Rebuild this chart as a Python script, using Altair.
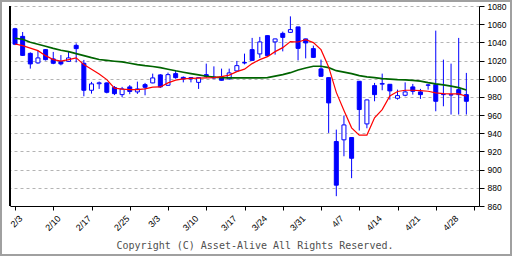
import altair as alt
import pandas as pd

opens = [1055, 1046.6, 1027.9, 1017.4, 1032, 1021.8, 1018.8, 1019.1, 1036.7, 1017,
         987.3, 994.5, 995.4, 990.4, 982.5, 991, 985.5, 993.5, 995.4, 1004.2,
         992.8, 1005.6, 1001.5, 1001.2, 996, 1004.5, 1001.9, 1002, 999.8, 1008.6,
         1017.3, 1032, 1027.3, 1047.4, 1040.5, 1049.9, 1051, 1057, 1043.8, 1033.1,
         1010.8, 1001.2, 930.9, 932.8, 935.3, 997.2, 950.3, 992.4, 994, 993.9,
         978.5, 981.8, 991, 985.5, 992.8, 993.5, 982.5, 982, 988, 982.5]
highs = [1056, 1051.4, 1029, 1030.9, 1032.5, 1029.5, 1026, 1029.5, 1038.9, 1020.7,
         996.5, 996.9, 996, 992, 991, 993, 996.8, 995.4, 1005.6, 1005,
         1006.7, 1009.3, 1002.5, 1001.5, 1001.2, 1016.6, 1013.6, 1011.1, 1011.1, 1019.6,
         1027.6, 1044.9, 1046, 1047.5, 1044, 1051.8, 1068.6, 1057, 1044, 1036.4,
         1021, 1001.5, 944, 959.5, 935.5, 997.5, 977, 995.4, 1005.6, 994,
         988, 996, 994.3, 988.8, 994.3, 1052.9, 1021, 1016.6, 1044.9, 1006.4]
lows = [1037, 1025, 1011.1, 1016.5, 1020, 1016, 1014.7, 1018.5, 1018, 980.7,
        983.6, 988.8, 983.9, 982, 979.6, 983, 983.3, 981.8, 995, 990,
        992, 1000, 996, 996, 988.8, 1001, 1000, 998, 999, 1008,
        1015.8, 1020, 1022.9, 1025, 1026.5, 1030.1, 1050.3, 1020.2, 1022.4, 1023,
        1002, 940.4, 870.8, 914.7, 890.6, 943, 945.5, 975.2, 987.3, 977,
        977, 980.7, 982.5, 977.8, 988, 964.2, 969.7, 960.6, 960.6, 960.6]
closes = [1038, 1025.7, 1016.3, 1022.9, 1021, 1017, 1016.3, 1022.9, 1033.1, 987.3,
          994.3, 995.5, 985.1, 983.6, 988.8, 986, 988.8, 990.6, 1000.9, 991,
          1004.5, 1001.2, 999.8, 999.8, 1001.2, 1002.6, 1000.8, 998.3, 1006.4, 1014.4,
          1017.8, 1020.2, 1040.5, 1025.4, 1043.8, 1045.5, 1054, 1033.4, 1039.4, 1023.5,
          1002.7, 973.4, 882.9, 949.2, 912.5, 966.1, 976.7, 982.5, 994.8, 986.6,
          981.4, 985.5, 986.2, 982.5, 993.2, 975.2, 982.8, 982.5, 982.5, 975.2]
ma_short = [1038.2, 1036.4, 1033.6, 1030.9, 1025.4, 1021.0, 1019.3, 1021.0, 1022.9, 1015.5,
            1010.5, 1005.1, 999.0, 989.7, 988.6, 988.0, 988.0, 988.8, 990.8, 991.0,
            995.4, 998.5, 999.8, 1000.4, 1000.7, 1000.9, 1001.2, 1002.3, 1004.0, 1007.8,
            1010.5, 1016.6, 1021.0, 1024.3, 1029.8, 1034.2, 1040.8, 1040.4, 1043.0, 1039.7,
            1032.0, 1013.0, 985.0, 965.0, 946.0, 938.0, 938.0, 957.0, 966.0, 981.0,
            986.0, 987.3, 987.3, 986.9, 986.2, 984.4, 983.6, 983.3, 983.3, 980.7]
ma_long = [1044.6, 1043.5, 1040.2, 1038.0, 1035.8, 1033.4, 1031.4, 1029.8, 1027.6, 1025.4,
           1023.2, 1021.2, 1020.2, 1019.3, 1018.5, 1017.1, 1015.5, 1014.4, 1013.5, 1012.2,
           1010.5, 1008.7, 1007.1, 1005.6, 1004.2, 1002.7, 1001.8, 1001.2, 1000.9, 1000.9,
           1000.9, 1000.9, 1000.9, 1001.2, 1002.9, 1004.5, 1006.7, 1009.5, 1011.9, 1013.8,
           1013.8, 1012.2, 1008.9, 1007.3, 1005.6, 1003.4, 1002.0, 1001.2, 1000.1, 999.6,
           999.0, 998.7, 998.2, 997.4, 995.7, 994.3, 993.2, 991.9, 990.2, 987.5]

label_text = ["2/3", "2/10", "2/17", "2/25", "3/3", "3/10", "3/17", "3/24",
              "3/31", "4/7", "4/14", "4/21", "4/28"]
label_day = [0, 5, 9, 14, 18, 23, 28, 32, 37, 42, 47, 52, 57]
y_ticks = list(range(860, 1081, 20))
x_ticks = list(range(0, 61, 5))
copyright_text = "Copyright (C) Asset-Alive All Rights Reserved."

BLUE = "#0000ff"

df = pd.DataFrame({
    "i": list(range(len(opens))),
    "open": opens, "high": highs, "low": lows, "close": closes,
    "ma5": ma_short, "ma25": ma_long,
})
lab_df = pd.DataFrame({"i": label_day, "t": label_text})

xs = alt.Scale(domain=[0, 60], nice=False, zero=False)
ys = alt.Scale(domain=[860, 1080], nice=False, zero=False)

x_axis = alt.Axis(values=x_ticks, labels=False, grid=False, tickSize=4,
                  tickColor="black", domainColor="black", title=None)
y_axis = alt.Axis(orient="right", values=y_ticks, grid=True, gridDash=[3, 3],
                  gridColor="#b4b4b4", tickSize=5, tickColor="black",
                  domainColor="black", labelColor="black", labelOverlap=False,
                  format="d", labelFont="Liberation Sans", labelFontSize=8.5,
                  labelPadding=3, title=None)


def X(field):
    return alt.X(field, scale=xs, axis=x_axis)


def Y(field):
    return alt.Y(field, scale=ys, axis=y_axis)


base = alt.Chart(df)

wick = base.mark_rule(color=BLUE, strokeWidth=1).encode(
    x=X("i:Q"), y=Y("low:Q"), y2="high:Q")
body = base.mark_bar(size=4, stroke=BLUE, strokeWidth=1).encode(
    x=X("i:Q"), y=Y("open:Q"), y2="close:Q",
    fill=alt.condition(alt.datum.close > alt.datum.open,
                       alt.value("white"), alt.value(BLUE)),
)
line_long = base.mark_line(color="#006400", strokeWidth=1.6).encode(
    x=X("i:Q"), y=Y("ma25:Q"))
line_short = base.mark_line(color="#ff0000", strokeWidth=1.2).encode(
    x=X("i:Q"), y=Y("ma5:Q"))

left_line = alt.Chart(df).mark_rule(color="black", strokeWidth=1).encode(
    x=alt.value(0), y=alt.value(0), y2=alt.value(200))

date_labels = alt.Chart(lab_df).mark_text(
    angle=315, align="right", baseline="middle", font="Liberation Sans",
    fontSize=9, color="black", dx=4.2, dy=4.2,
).encode(x=X("i:Q"), y=alt.value(211), text="t:N")

copy_df = pd.DataFrame({"t": [copyright_text]})
copy_text = alt.Chart(copy_df).mark_text(
    align="center", baseline="middle", font="DejaVu Sans Mono", fontSize=10,
    color="#505050",
).encode(x=alt.value(245), y=alt.value(240), text="t:N")

frame = alt.Chart(copy_df).mark_rect(
    fillOpacity=0, stroke="#a0a0a0", strokeWidth=2,
).encode(x=alt.value(-9), x2=alt.value(501), y=alt.value(-5), y2=alt.value(249))

chart = alt.layer(
    wick, body, line_long, line_short, left_line, date_labels, copy_text, frame
).properties(
    width=469, height=200,
    autosize=alt.AutoSizeParams(type="none"),
    padding={"left": 10, "top": 6, "right": 33, "bottom": 50},
    background="white",
).configure_view(stroke=None)

chart.save("out.html", embed_options={"renderer": "svg", "actions": False})
